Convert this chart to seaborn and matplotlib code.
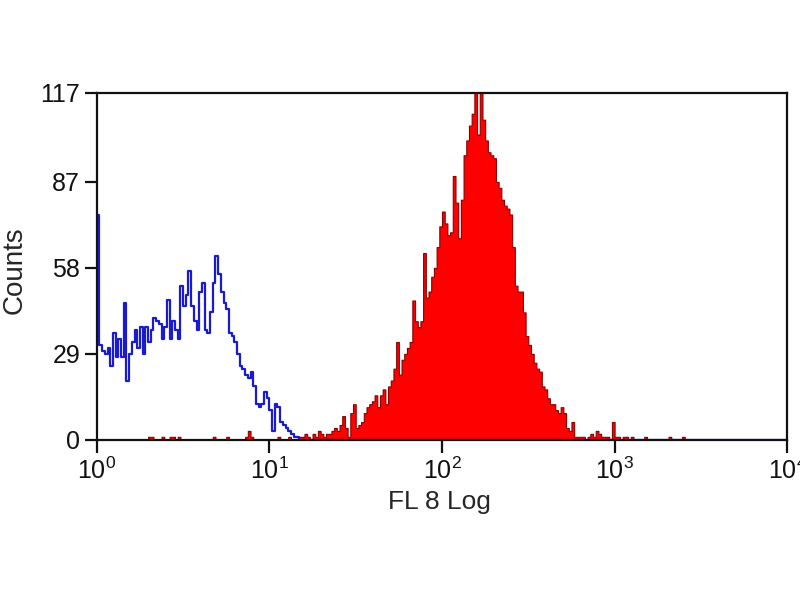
#!/usr/bin/env python3
"""
Flow cytometry overlay: control (blue outline) vs stained (red filled)
on a 4-decade log channel axis.
"""

import numpy as np
import pandas as pd
import matplotlib
matplotlib.use("Agg")
import matplotlib.pyplot as plt
import seaborn as sns

# -------------------------------
# Data (counts per channel, 256 channels over 4 decades)
# -------------------------------

N_CHANNELS = 256
DECADES = 4

# control histogram, from channel 0
blue_counts = [76, 32, 30, 29, 31, 25, 36, 28, 34, 28, 46, 20, 29, 33, 37, 31,
               38, 29, 38, 33, 37, 41, 40, 39, 34, 38, 47, 34, 40, 37, 34, 52,
               45, 49, 57, 45, 40, 37, 50, 53, 37, 36, 43, 53, 62, 56, 50, 46,
               44, 36, 35, 33, 29, 25, 24, 22, 21, 23, 18, 12, 11, 12, 16, 14,
               10, 3, 12, 11, 6, 5, 4, 3, 2, 1, 1, 0]

# stained histogram, main peak from channel 75
red_start = 75
red_counts = [1, 1, 2, 1, 0, 2, 1, 3, 2, 1, 2, 2, 3, 4, 3, 5, 8, 4, 1, 9,
              12, 4, 5, 6, 9, 11, 12, 13, 15, 11, 15, 17, 12, 18, 20,
              24, 33, 22, 27, 29, 31, 33, 47, 40, 38, 40, 63, 48, 50, 55,
              58, 65, 72, 77, 73, 69, 70, 89, 80, 68, 81, 96, 101, 106, 110,
              117, 103, 117, 108, 101, 97, 96, 95, 87, 85, 81, 79, 78, 76, 65,
              52, 50, 50, 43, 35, 32, 29, 26, 24, 23, 18, 17, 14, 12, 12,
              10, 9, 11, 9, 4, 3, 6, 1, 1, 1, 1, 0, 1, 2, 1, 3, 2, 1, 1, 1,
              0, 6, 1, 1, 0, 1, 1, 0, 1]

# isolated stained events outside the main peak
red_spike_channels = [19, 20, 24, 27, 28, 30, 43, 48, 55, 56, 57, 67, 71,
                      203, 212, 217]
red_spike_counts = [1, 1, 1, 1, 1, 1, 1, 1, 1, 3, 1, 1, 1, 1, 1, 1]

y_ticks = [0, 29, 58, 87, 117]
x_ticks = [1, 10, 100, 1000, 10000]
x_tick_labels = ["$10^{0}$", "$10^{1}$", "$10^{2}$", "$10^{3}$", "$10^{4}$"]


def channel_frame(channels, counts):
    ch = np.asarray(channels, dtype=float)
    fl = 10 ** ((ch + 0.5) * DECADES / N_CHANNELS)
    return pd.DataFrame({"fl": fl, "count": counts})


blue = channel_frame(range(len(blue_counts)), blue_counts)
red = pd.concat([
    channel_frame(range(red_start, red_start + len(red_counts)), red_counts),
    channel_frame(red_spike_channels, red_spike_counts),
], ignore_index=True)

# -------------------------------
# Plot
# -------------------------------

sns.set_style("ticks")
plt.rcParams["font.family"] = ["Liberation Sans", "DejaVu Sans"]
plt.rcParams["mathtext.default"] = "regular"

fig = plt.figure(figsize=(8, 6), dpi=100)
ax = fig.add_axes([0.121, 0.267, 0.863, 0.578])

hist_kws = dict(x="fl", weights="count", bins=N_CHANNELS, binrange=(0, DECADES),
                log_scale=True, element="step", ax=ax)
sns.histplot(data=red, fill=True, color="#ff0000", alpha=1,
             edgecolor="#8a0000", linewidth=0.8, **hist_kws)
sns.histplot(data=blue, fill=False, color="#1a1ad0", linewidth=1.6, **hist_kws)

ax.set_xlim(1, 1e4)
ax.set_ylim(0, 117)
ax.set_xticks(x_ticks)
ax.set_xticklabels(x_tick_labels)
ax.xaxis.set_minor_locator(matplotlib.ticker.NullLocator())
ax.set_yticks(y_ticks)

for side in ["left", "right", "top", "bottom"]:
    ax.spines[side].set_visible(True)
    ax.spines[side].set_linewidth(1.6)
    ax.spines[side].set_color("#111111")

ax.tick_params(axis="both", direction="out", length=9, width=1.6,
               labelsize=18, colors="#111111")
ax.tick_params(axis="x", pad=4)
ax.tick_params(axis="y", pad=3)
ax.tick_params(top=False, right=False)

ax.set_xlabel("FL 8 Log", fontsize=19)
ax.xaxis.set_label_coords(0.496, -0.146)
ax.set_ylabel("Counts", fontsize=20)
ax.yaxis.set_label_coords(-0.100, 0.49)

fig.savefig("out.png", dpi=100)
